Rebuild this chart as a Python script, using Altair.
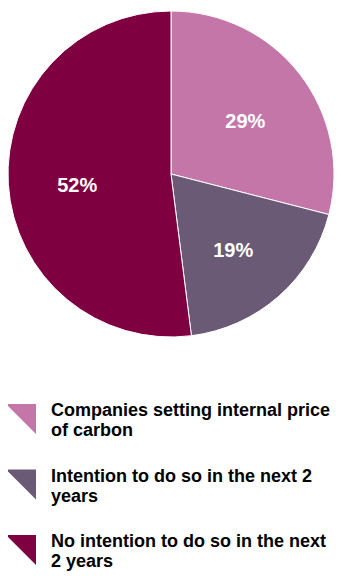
import altair as alt
import pandas as pd

categories = [
    "Companies setting internal price of carbon",
    "Intention to do so in the next 2 years",
    "No intention to do so in the next 2 years",
]
legend_labels = [
    "Companies setting internal price\nof carbon",
    "Intention to do so in the next 2\nyears",
    "No intention to do so in the next\n2 years",
]
values = [29, 19, 52]
colors = ["#C576A9", "#6B5A75", "#7F0041"]

df = pd.DataFrame({
    "category": categories,
    "value": values,
    "order": list(range(len(categories))),
    "label": [f"{v}%" for v in values],
    "legend_label": legend_labels,
})

FONT = "Liberation Sans"
color_enc = alt.Color("category:N", scale=alt.Scale(domain=categories, range=colors), legend=None)
base = alt.Chart(df)

CX, CY, R = 163, 166, 163

pie = base.mark_arc(outerRadius=R, stroke="white", strokeWidth=1).encode(
    theta=alt.Theta("value:Q", stack=True),
    order=alt.Order("order:Q"),
    color=color_enc,
    x=alt.value(CX),
    y=alt.value(CY),
)

pie_labels = base.mark_text(radius=94, dy=6, fontSize=20, fontWeight="bold", color="white", font=FONT).encode(
    theta=alt.Theta("value:Q", stack=True),
    order=alt.Order("order:Q"),
    text="label:N",
    x=alt.value(CX),
    y=alt.value(CY),
)

yenc = alt.Y("category:N", scale=alt.Scale(type="point", domain=categories, range=[411, 542], padding=0), axis=None)

legend_sym = base.mark_point(shape="M-1,-1L1,-1L1,1Z", size=900, filled=True, opacity=1, strokeWidth=0).encode(
    x=alt.value(13),
    y=yenc,
    color=color_enc,
)

legend_text = base.mark_text(align="left", baseline="middle", lineBreak="\n", fontSize=18, dy=-8,
                             fontWeight="bold", font=FONT, lineHeight=20, color="black").encode(
    x=alt.value(43),
    y=yenc,
    text="legend_label:N",
)

chart = alt.layer(pie, pie_labels, legend_sym, legend_text).properties(
    width=326, height=564, autosize=alt.AutoSizeParams(type="none"), padding=0
).configure_view(stroke=None)

chart.save("out.html", embed_options={"renderer": "svg", "actions": False})
